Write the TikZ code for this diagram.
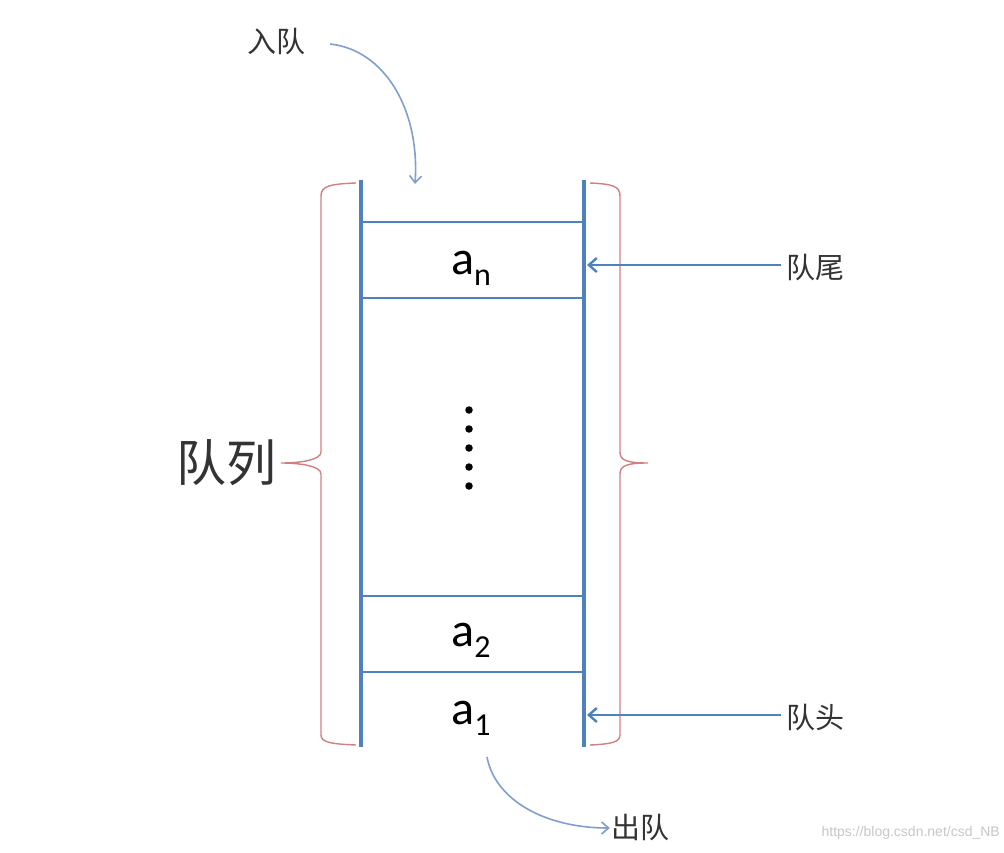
\documentclass[tikz,border=0pt]{standalone}
\usepackage{fontspec}
\setmainfont{Carlito}
\newfontfamily\cjk{Noto Sans CJK SC}
\newfontfamily\wm{Liberation Sans}
\usetikzlibrary{arrows.meta}
\definecolor{qblue}{HTML}{4F81BD}
\definecolor{qred}{HTML}{D08080}
\definecolor{qlight}{HTML}{7F9FCF}
\definecolor{qtext}{HTML}{333333}
\tikzset{
  wall/.style={draw=qblue, line width=3.2pt},
  sep/.style={draw=qblue, line width=1.6pt},
  brace/.style={draw=qred, line width=1.4pt},
  ptr/.style={draw=qblue, line width=2.6pt, -{Straight Barb[length=8pt,width=14pt,line width=2.4pt]}},
  flow/.style={draw=qlight, line width=1.6pt, -{Straight Barb[length=7pt,width=12pt,line width=1.6pt]}},
  cn/.style={font=\cjk\fontsize{29}{30}\selectfont, text=qtext, inner sep=1pt},
  elem/.style={inner sep=0pt, text=black},
  dot/.style={circle, fill=black, inner sep=0pt, minimum size=7.5pt},
}
\newcommand{\elemlabel}[1]{{\fontsize{48}{48}\selectfont a}\raisebox{-11pt}{\fontsize{32}{32}\selectfont #1}}
\begin{document}
\begin{tikzpicture}[x=1pt,y=-1pt]
\useasboundingbox[fill=white] (0,0) rectangle (1004,853);
% walls
\coordinate (lt) at (361,180); \coordinate (lb) at (361,747);
\coordinate (rt) at (584,180); \coordinate (rb) at (584,747);
\draw[wall] (lt) -- (lb);
\draw[wall] (rt) -- (rb);
% separators
\foreach \y/\n in {222/s1,298/s2,596/s3,672/s4}{
  \coordinate (\n l) at (361,\y); \coordinate (\n r) at (584,\y);
  \draw[sep] (\n l) -- (\n r);
}
% braces
\draw[brace] (356,183) .. controls (330,184) and (321,186) .. (321,196)
  -- (321,452) .. controls (321,460) and (300,463) .. (281,463)
  .. controls (300,463) and (321,466) .. (321,474)
  -- (321,735) .. controls (321,742) and (330,744) .. (356,745);
\draw[brace] (590,183) .. controls (612,184) and (620,186) .. (620,196)
  -- (620,452) .. controls (620,460) and (626,463) .. (648,463)
  .. controls (626,463) and (620,466) .. (620,474)
  -- (620,735) .. controls (620,742) and (612,744) .. (590,745);
% labels
\node[font=\cjk\fontsize{50}{52}\selectfont, text=qtext, inner sep=0pt] (queue) at (226,463) {队列};
\node[elem] (an) at (471,268) {\elemlabel{n}};
\node[elem] (a2) at (471,640) {\elemlabel{2}};
\node[elem] (a1) at (471,718) {\elemlabel{1}};
\foreach \i/\y in {1/410,2/429,3/448,4/467,5/486}{
  \node[dot] (d\i) at (469,\y) {};
}
% pointers
\node[cn] (tail) at (815,268) {队尾};
\node[cn] (head) at (815,718) {队头};
\coordinate (tailp) at (587,265);
\coordinate (headp) at (587,715);
\draw[ptr] (tail.west) ++(-4,-3) coordinate (tails) -- (tailp);
\draw[ptr] (head.west) ++(-4,-3) coordinate (heads) -- (headp);
% enqueue / dequeue
\node[cn] (enq) at (276,42) {入队};
\coordinate (enqp) at (415,184);
\draw[flow] (330,44) coordinate (enqs) .. controls (385,50) and (420,110) .. (enqp);
\node[cn] (deq) at (640,828) {出队};
\coordinate (deqs) at (487,757);
\draw[flow] (deqs) .. controls (495,800) and (545,828) .. (deq.west);
% watermark
\node[font=\wm\fontsize{14}{14}\selectfont, text=black!22, anchor=east, inner sep=0pt] (wmark) at (1000,833) {https://blog.csdn.net/csd\_NB};
\end{tikzpicture}
\end{document}
